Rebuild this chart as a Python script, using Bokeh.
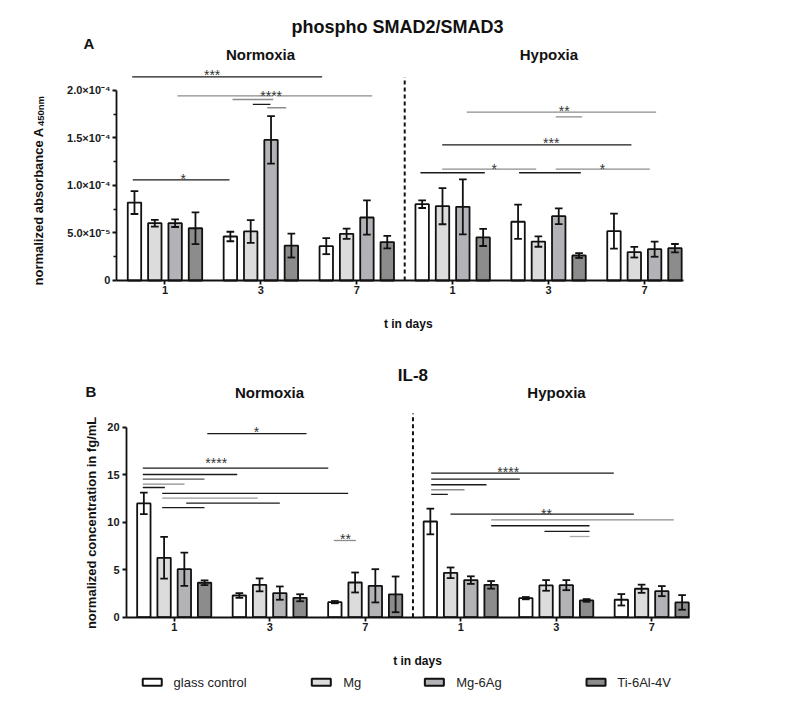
import numpy as np
from bokeh.plotting import figure
from bokeh.models import Range1d, FixedTicker
from bokeh.layouts import column
from bokeh.embed import file_html
from bokeh.resources import INLINE
from bokeh.core.properties import value

FONT = "Liberation Sans"

# ---------------- data ----------------
days = ["1", "3", "7"]
conditions = ["Normoxia", "Hypoxia"]
materials = ["glass control", "Mg", "Mg-6Ag", "Ti-6Al-4V"]
colors = ["#ffffff", "#dcdcdc", "#b3b3b7", "#8c8c8c"]

# group order: Normoxia d1, d3, d7, Hypoxia d1, d3, d7
# phospho SMAD2/SMAD3, normalized absorbance, values in units of 1e-5
smad_glass = [8.2, 4.63, 3.61, 8.03, 6.18, 5.19]
smad_glass_err = [1.2, 0.5, 0.84, 0.4, 1.8, 1.84]
smad_mg = [6.03, 5.16, 4.91, 7.82, 4.1, 2.98]
smad_mg_err = [0.35, 1.2, 0.54, 1.9, 0.55, 0.56]
smad_mg6ag = [6.03, 14.8, 6.63, 7.75, 6.77, 3.3]
smad_mg6ag_err = [0.4, 2.5, 1.8, 2.9, 0.83, 0.8]
smad_ti = [5.5, 3.68, 4.04, 4.53, 2.63, 3.4]
smad_ti_err = [1.67, 1.26, 0.65, 0.9, 0.26, 0.44]

# IL-8, normalized concentration in fg/mL
il8_glass = [11.97, 2.28, 1.58, 10.07, 2.0, 1.83]
il8_glass_err = [1.13, 0.25, 0.12, 1.35, 0.12, 0.6]
il8_mg = [6.25, 3.4, 3.65, 4.67, 3.34, 2.99]
il8_mg_err = [2.2, 0.68, 1.05, 0.56, 0.56, 0.43]
il8_mg6ag = [5.05, 2.53, 3.3, 3.9, 3.37, 2.74]
il8_mg6ag_err = [1.75, 0.7, 1.75, 0.4, 0.53, 0.53]
il8_ti = [3.62, 2.04, 2.4, 3.4, 1.76, 1.55]
il8_ti_err = [0.25, 0.37, 1.88, 0.4, 0.14, 0.77]

smad_ticks = [0, 5, 10, 15, 20]
smad_tick_labels = ["0", "5.0\u00d710\u207b\u2075", "1.0\u00d710\u207b\u2074",
                    "1.5\u00d710\u207b\u2074", "2.0\u00d710\u207b\u2074"]
il8_ticks = [0, 5, 10, 15, 20]
il8_tick_labels = ["0", "5", "10", "15", "20"]

# significance brackets: (x start, x end, y, colour) in data coords
smad_sig_lines = [
    (-0.342, 1.639, 21.44, "#1a1a1a"),
    (0.130, 1.128, 19.44, "#8c8c8c"),
    (1.163, 2.161, 19.44, "#8c8c8c"),
    (0.704, 1.128, 19.05, "#8c8c8c"),
    (0.916, 1.100, 18.53, "#1a1a1a"),
    (1.066, 1.264, 18.18, "#8c8c8c"),
    (-0.336, 0.673, 10.60, "#1a1a1a"),
    (3.147, 5.122, 17.72, "#8c8c8c"),
    (4.075, 4.350, 17.23, "#8c8c8c"),
    (2.891, 4.864, 14.28, "#1a1a1a"),
    (2.664, 3.335, 11.34, "#1a1a1a"),
    (2.891, 3.871, 11.72, "#8c8c8c"),
    (3.693, 4.336, 11.34, "#1a1a1a"),
    (4.075, 5.055, 11.72, "#8c8c8c"),
]
smad_sig_stars = [
    (0.492, 21.61, "***"), (1.107, 19.45, "****"), (0.19, 10.72, "*"),
    (4.163, 17.85, "**"), (4.027, 14.45, "***"), (3.433, 11.75, "*"),
    (4.562, 11.75, "*"),
]
il8_sig_lines = [
    (0.346, 1.385, 19.31, "#1a1a1a"),
    (-0.329, 1.613, 15.68, "#1a1a1a"),
    (-0.329, 0.660, 15.02, "#1a1a1a"),
    (-0.329, 0.317, 14.53, "#555555"),
    (-0.329, 0.108, 14.00, "#8c8c8c"),
    (-0.329, -0.098, 13.65, "#1a1a1a"),
    (-0.126, 1.822, 13.02, "#1a1a1a"),
    (-0.126, 0.875, 12.53, "#9a9a9a"),
    (0.126, 1.106, 12.00, "#1a1a1a"),
    (-0.126, 0.317, 11.52, "#1a1a1a"),
    (1.671, 1.902, 8.07, "#8c8c8c"),
    (2.691, 4.603, 15.16, "#1a1a1a"),
    (2.691, 3.619, 14.53, "#1a1a1a"),
    (2.691, 3.270, 13.94, "#1a1a1a"),
    (2.691, 3.040, 13.41, "#8c8c8c"),
    (2.691, 2.865, 12.92, "#1a1a1a"),
    (2.893, 4.813, 10.84, "#1a1a1a"),
    (3.319, 5.231, 10.25, "#8c8c8c"),
    (3.319, 4.349, 9.62, "#1a1a1a"),
    (3.877, 4.349, 9.02, "#1a1a1a"),
    (4.142, 4.349, 8.49, "#aaaaaa"),
]
il8_sig_stars = [
    (0.862, 19.44, "*"), (0.44, 16.18, "****"), (1.794, 8.21, "**"),
    (3.497, 15.23, "****"), (3.898, 10.81, "**"),
]

# ---------------- helpers ----------------
BAR_STEP = 0.212
BAR_W = 0.14
CAP = 0.04
n_groups = len(conditions) * len(days)
group_x = np.arange(n_groups, dtype=float)
tick_overrides = {i: days[i % len(days)] for i in range(n_groups)}


def style_axes(p, yticks, ylabels, x_bounds, minor=None):
    p.xgrid.visible = False
    p.ygrid.visible = False
    p.outline_line_color = None
    for ax in (p.xaxis[0], p.yaxis[0]):
        ax.axis_line_width = 1.8
        ax.axis_line_color = "#111111"
        ax.major_tick_line_width = 1.8
        ax.major_tick_line_color = "#111111"
        ax.minor_tick_line_width = 1.5
        ax.minor_tick_line_color = "#111111"
        ax.major_tick_in = 0
        ax.major_tick_out = 4
        ax.minor_tick_in = 0
        ax.minor_tick_out = 3
        ax.major_label_text_font = FONT
        ax.major_label_text_font_style = "bold"
        ax.major_label_text_font_size = "11px"
        ax.major_label_text_color = "#1a1a1a"
    p.xaxis[0].ticker = FixedTicker(ticks=list(group_x))
    p.xaxis[0].major_label_overrides = tick_overrides
    p.xaxis[0].major_label_standoff = 2
    p.xaxis[0].fixed_location = 0
    p.xaxis[0].bounds = x_bounds
    p.yaxis[0].ticker = FixedTicker(ticks=yticks, minor_ticks=minor or [])
    p.yaxis[0].major_label_overrides = {t: l for t, l in zip(yticks, ylabels)}
    p.yaxis[0].bounds = (yticks[0], yticks[-1])
    p.yaxis[0].fixed_location = x_bounds[0]
    p.yaxis[0].major_label_standoff = 2


def draw_bars(p, means, errs):
    for k, (m, e) in enumerate(zip(means, errs)):
        m = np.array(m)
        e = np.array(e)
        x = group_x + (k - 1.5) * BAR_STEP
        p.vbar(x=x, top=m, bottom=0, width=BAR_W, fill_color=colors[k],
               line_color="#111111", line_width=1.8)
        lo, hi = m - e, m + e
        p.segment(x0=x, y0=lo, x1=x, y1=hi, line_color="#111111", line_width=1.8)
        p.segment(x0=x - CAP, y0=hi, x1=x + CAP, y1=hi, line_color="#111111", line_width=1.8)
        p.segment(x0=x - CAP, y0=lo, x1=x + CAP, y1=lo, line_color="#111111", line_width=1.8)


def draw_sig(p, lines, stars):
    p.segment(x0=[l[0] for l in lines], x1=[l[1] for l in lines],
              y0=[l[2] for l in lines], y1=[l[2] for l in lines],
              line_color=[l[3] for l in lines], line_width=1.3)
    p.text(x=[s[0] for s in stars], y=[s[1] for s in stars], text=[s[2] for s in stars],
           text_font=value(FONT), text_font_size="14px", text_align="center",
           text_baseline="alphabetic", text_color="#333333")


def add_text(p, x, y, text, size, align="center", style="bold", angle=0.0,
             baseline="alphabetic", color="#111111"):
    p.text(x=[x], y=[y], text=[text], text_font=value(FONT), text_font_size=size,
           text_font_style=style, text_align=align, text_baseline=baseline,
           angle=angle, text_color=color)


def divider(p, top):
    mid = (len(days) - 0.5)
    p.segment(x0=[mid], y0=[0], x1=[mid], y1=[top], line_color="#111111",
              line_width=2, line_dash="4 3")


# ---------------- panel A ----------------
p1 = figure(width=781, height=335, x_range=Range1d(-1.715, 6.429), y_range=Range1d(-5.79, 29.47),
            output_backend="svg", toolbar_location=None, title=None, min_border=0)
style_axes(p1, smad_ticks, smad_tick_labels, (-0.506, 5.406), minor=[2.5, 7.5, 12.5, 17.5])
divider(p1, 21.4)
draw_bars(p1, [smad_glass, smad_mg, smad_mg6ag, smad_ti],
          [smad_glass_err, smad_mg_err, smad_mg6ag_err, smad_ti_err])
draw_sig(p1, smad_sig_lines, smad_sig_stars)
add_text(p1, 2.424, 26.66, "phospho SMAD2/SMAD3", "18px")
add_text(p1, -0.85, 24.92, "A", "15px", align="left")
add_text(p1, 0.996, 23.76, conditions[0], "15px")
add_text(p1, 4.004, 23.76, conditions[1], "15px")
add_text(p1, 2.537, -4.63, "t in days", "12px")
add_text(p1, -1.32, -0.526, "normalized absorbance A", "13px", align="left", angle=np.pi / 2)
add_text(p1, -1.293, 16.25, "450nm", "9.5px", align="left", angle=np.pi / 2)

# ---------------- panel B ----------------
p2 = figure(width=781, height=370, x_range=Range1d(-1.819, 6.359), y_range=Range1d(-9.30, 29.65),
            output_backend="svg", toolbar_location=None, title=None, min_border=0)
style_axes(p2, il8_ticks, il8_tick_labels, (-0.4995, 5.396))
p2.yaxis[0].major_label_standoff = 3
divider(p2, 21.44)
draw_bars(p2, [il8_glass, il8_mg, il8_mg6ag, il8_ti],
          [il8_glass_err, il8_mg_err, il8_mg6ag_err, il8_ti_err])
draw_sig(p2, il8_sig_lines, il8_sig_stars)
add_text(p2, 2.5, 25.44, "IL-8", "17px")
add_text(p2, -0.929, 23.76, "B", "15px", align="left")
add_text(p2, 0.998, 23.68, conditions[0], "15px")
add_text(p2, 4.003, 23.68, conditions[1], "15px")
add_text(p2, 2.548, -4.66, "t in days", "12px")
add_text(p2, -0.861, 9.92, "normalized concentration in fg/mL", "13px", angle=np.pi / 2)

# legend (drawn in panel B's lower margin)
legend_box_x = [-0.230, 1.540, 2.724, 4.417]
legend_text_x = [-0.007, 1.770, 2.953, 4.639]
legend_y = -6.84
p2.rect(x=legend_box_x, y=[legend_y] * 4, width=19, height=7, width_units="screen",
        height_units="screen", fill_color=colors, line_color="#111111", line_width=2)
p2.text(x=legend_text_x, y=[legend_y] * 4, text=materials, text_font=value(FONT),
        text_font_size="13px", text_align="left", text_baseline="middle",
        text_color="#222222")

layout = column(p1, p2)
open("out.html", "w").write(file_html(layout, INLINE))
